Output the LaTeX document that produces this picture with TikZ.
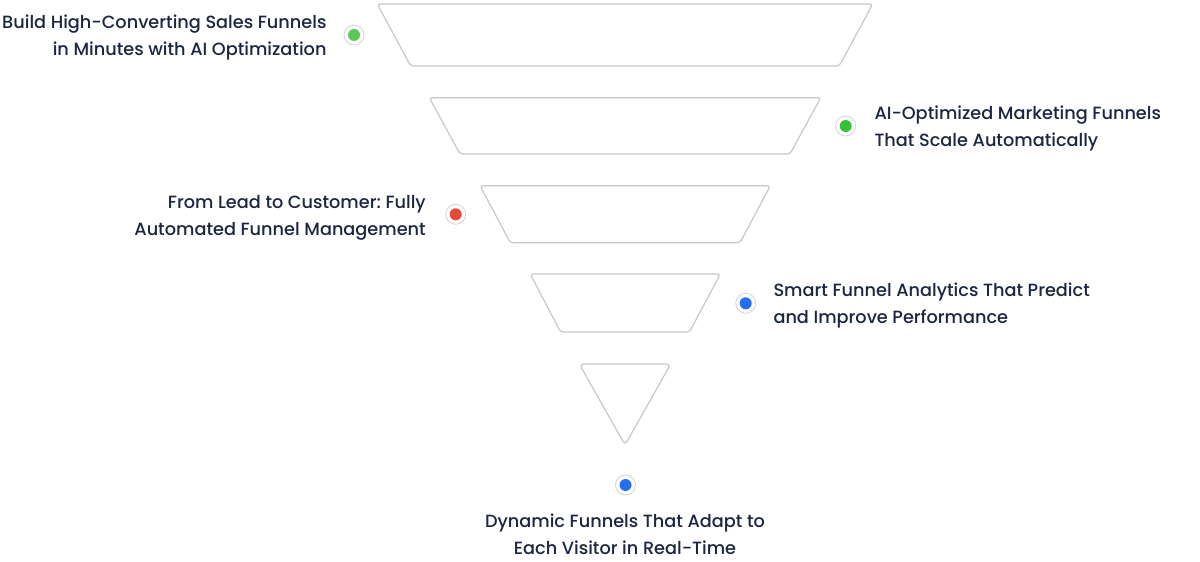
\documentclass[tikz,border=0pt]{standalone}
\usepackage{fontspec}
\setmainfont{Poppins Medium}
\frenchspacing
\definecolor{ink}{RGB}{28,37,65}
\definecolor{edge}{RGB}{200,200,200}
\definecolor{ring}{RGB}{210,210,210}
\definecolor{leafgreen}{RGB}{92,200,92}
\definecolor{limegreen}{RGB}{56,192,56}
\definecolor{alertred}{RGB}{229,73,58}
\definecolor{skyblue}{RGB}{37,110,240}
\tikzset{%
  stage/.style={draw=edge, line width=1.2pt, fill=white, rounded corners=3pt},% funnel stage
  bullet/.style={circle, draw=ring, line width=0.8pt, fill=white, minimum size=20pt, inner sep=0pt},% outer ring
  core/.style={circle, fill=#1, minimum size=12pt, inner sep=0pt},% coloured dot
  caption/.style={text=ink, font=\fontsize{17.7}{26.8}\selectfont, inner sep=0pt}% stage text
}

\begin{document}
\begin{tikzpicture}[x=1pt, y=-1pt]
\fill[white] (0,0) rectangle (1200,562);
\useasboundingbox (0,0) rectangle (1200,562);

% funnel stages
\draw[stage] (377.3,4) -- (872.7,4) -- (839.3,66) -- (410.7,66) -- cycle;
\draw[stage] (429.3,97.7) -- (820.7,97.7) -- (790,154) -- (460,154) -- cycle;
\draw[stage] (480,185.7) -- (770.3,185.7) -- (740,242.7) -- (510.3,242.7) -- cycle;
\draw[stage] (530.3,274) -- (720.3,274) -- (689.5,332) -- (560.5,332) -- cycle;
\draw[stage, rounded corners=4pt] (579.3,364) -- (670.7,364) -- (625,445) -- cycle;

% markers
\node[bullet] (b1) at (354,35) {};
\node[bullet] (b2) at (845.7,126) {};
\node[bullet] (b3) at (455.7,214.3) {};
\node[bullet] (b4) at (745.7,303.3) {};
\node[bullet] (b5) at (625.5,485) {};
\node[core=leafgreen] (c1) at (b1) {};
\node[core=limegreen] (c2) at (b2) {};
\node[core=alertred] (c3) at (b3) {};
\node[core=skyblue] (c4) at (b4) {};
\node[core=skyblue] (c5) at (b5) {};

% texts (base = last line)
\node[caption, align=right, anchor=base east] (t1) at (326.7,55) {Build High-Converting Sales Funnels\\in Minutes with AI Optimization};
\node[caption, align=left, anchor=base west] (t2) at (874.3,146.7) {AI-Optimized Marketing Funnels\\That Scale Automatically};
\node[caption, align=right, anchor=base east] (t3) at (426,235) {From Lead to Customer: Fully\\Automated Funnel Management};
\node[caption, align=left, anchor=base west] (t4) at (773.3,323.3) {Smart Funnel Analytics That Predict\\and Improve Performance};
\node[caption, align=center, anchor=base] (t5) at (625,554.3) {Dynamic Funnels That Adapt to\\Each Visitor in Real-Time};

\end{tikzpicture}
\end{document}
